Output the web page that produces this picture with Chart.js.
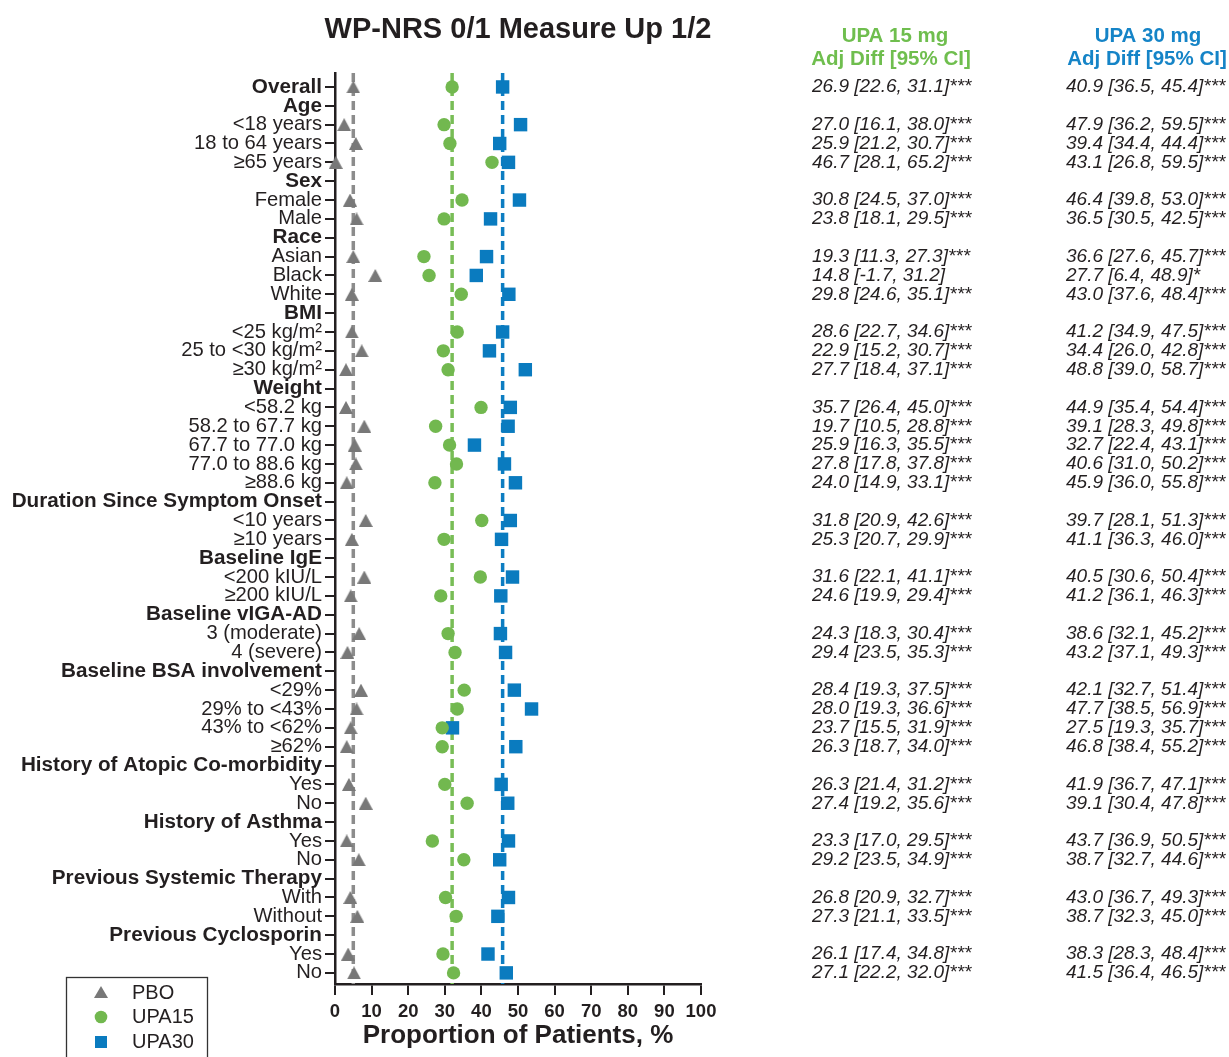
<!DOCTYPE html>
<html>
<head>
<meta charset="utf-8">
<script src="https://cdn.jsdelivr.net/npm/chart.js@4.4.1/dist/chart.umd.min.js"></script>
<style>
html,body{margin:0;padding:0;background:#fff;}
#wrap{width:1229px;height:1057px;position:relative;}
</style>
</head>
<body>
<div id="wrap"><canvas id="c"></canvas></div>
<script>
const FONT = '"Liberation Sans", Arial, Helvetica, sans-serif';

const chartTitle = 'WP-NRS 0/1 Measure Up 1/2';
const xAxisTitle = 'Proportion of Patients, %';
const seriesNames = ['PBO', 'UPA15', 'UPA30'];
const col1Header = ['UPA 15 mg', 'Adj Diff [95% CI]'];
const col2Header = ['UPA 30 mg', 'Adj Diff [95% CI]'];

const rowLabels = [
  'Overall', 'Age', '<18 years', '18 to 64 years', '\u226565 years',
  'Sex', 'Female', 'Male',
  'Race', 'Asian', 'Black', 'White',
  'BMI', '<25 kg/m\u00b2', '25 to <30 kg/m\u00b2', '\u226530 kg/m\u00b2',
  'Weight', '<58.2 kg', '58.2 to 67.7 kg', '67.7 to 77.0 kg', '77.0 to 88.6 kg', '\u226588.6 kg',
  'Duration Since Symptom Onset', '<10 years', '\u226510 years',
  'Baseline IgE', '<200 kIU/L', '\u2265200 kIU/L',
  'Baseline vIGA-AD', '3 (moderate)', '4 (severe)',
  'Baseline BSA involvement', '<29%', '29% to <43%', '43% to <62%', '\u226562%',
  'History of Atopic Co-morbidity', 'Yes', 'No',
  'History of Asthma', 'Yes', 'No',
  'Previous Systemic Therapy', 'With', 'Without',
  'Previous Cyclosporin', 'Yes', 'No'
];
const headerRows = [0, 1, 5, 8, 12, 16, 22, 25, 28, 31, 36, 39, 42, 45];

const pboValues = [
  5.0, null, 2.5, 5.7, 0.2,
  null, 4.1, 5.9,
  null, 5.0, 11.0, 4.6,
  null, 4.6, 7.3, 3.0,
  null, 3.0, 8.0, 5.4, 5.7, 3.2,
  null, 8.4, 4.6,
  null, 8.0, 4.3,
  null, 6.6, 3.4,
  null, 7.1, 5.9, 4.3, 3.2,
  null, 3.8, 8.4,
  null, 3.2, 6.5,
  null, 4.2, 6.1,
  null, 3.6, 5.2
];
const upa15Values = [
  32.0, null, 29.8, 31.4, 42.9,
  null, 34.7, 29.8,
  null, 24.3, 25.7, 34.5,
  null, 33.4, 29.6, 30.9,
  null, 39.9, 27.5, 31.3, 33.2, 27.3,
  null, 40.1, 29.8,
  null, 39.7, 28.9,
  null, 30.9, 32.8,
  null, 35.3, 33.4, 29.3, 29.3,
  null, 30.0, 36.1,
  null, 26.6, 35.2,
  null, 30.2, 33.1,
  null, 29.5, 32.4
];
const upa30Values = [
  45.8, null, 50.7, 45.0, 47.4,
  null, 50.4, 42.5,
  null, 41.4, 38.6, 47.5,
  null, 45.8, 42.2, 52.0,
  null, 47.9, 47.3, 38.1, 46.3, 49.3,
  null, 47.9, 45.5,
  null, 48.5, 45.3,
  null, 45.2, 46.6,
  null, 49.0, 53.7, 32.1, 49.4,
  null, 45.4, 47.2,
  null, 47.4, 45.0,
  null, 47.4, 44.5,
  null, 41.8, 46.8
];
const refLineValues = [5.0, 32.0, 45.8];

const upa15Diff = [
  '26.9 [22.6, 31.1]***', null, '27.0 [16.1, 38.0]***', '25.9 [21.2, 30.7]***', '46.7 [28.1, 65.2]***',
  null, '30.8 [24.5, 37.0]***', '23.8 [18.1, 29.5]***',
  null, '19.3 [11.3, 27.3]***', '14.8 [-1.7, 31.2]', '29.8 [24.6, 35.1]***',
  null, '28.6 [22.7, 34.6]***', '22.9 [15.2, 30.7]***', '27.7 [18.4, 37.1]***',
  null, '35.7 [26.4, 45.0]***', '19.7 [10.5, 28.8]***', '25.9 [16.3, 35.5]***', '27.8 [17.8, 37.8]***', '24.0 [14.9, 33.1]***',
  null, '31.8 [20.9, 42.6]***', '25.3 [20.7, 29.9]***',
  null, '31.6 [22.1, 41.1]***', '24.6 [19.9, 29.4]***',
  null, '24.3 [18.3, 30.4]***', '29.4 [23.5, 35.3]***',
  null, '28.4 [19.3, 37.5]***', '28.0 [19.3, 36.6]***', '23.7 [15.5, 31.9]***', '26.3 [18.7, 34.0]***',
  null, '26.3 [21.4, 31.2]***', '27.4 [19.2, 35.6]***',
  null, '23.3 [17.0, 29.5]***', '29.2 [23.5, 34.9]***',
  null, '26.8 [20.9, 32.7]***', '27.3 [21.1, 33.5]***',
  null, '26.1 [17.4, 34.8]***', '27.1 [22.2, 32.0]***'
];
const upa30Diff = [
  '40.9 [36.5, 45.4]***', null, '47.9 [36.2, 59.5]***', '39.4 [34.4, 44.4]***', '43.1 [26.8, 59.5]***',
  null, '46.4 [39.8, 53.0]***', '36.5 [30.5, 42.5]***',
  null, '36.6 [27.6, 45.7]***', '27.7 [6.4, 48.9]*', '43.0 [37.6, 48.4]***',
  null, '41.2 [34.9, 47.5]***', '34.4 [26.0, 42.8]***', '48.8 [39.0, 58.7]***',
  null, '44.9 [35.4, 54.4]***', '39.1 [28.3, 49.8]***', '32.7 [22.4, 43.1]***', '40.6 [31.0, 50.2]***', '45.9 [36.0, 55.8]***',
  null, '39.7 [28.1, 51.3]***', '41.1 [36.3, 46.0]***',
  null, '40.5 [30.6, 50.4]***', '41.2 [36.1, 46.3]***',
  null, '38.6 [32.1, 45.2]***', '43.2 [37.1, 49.3]***',
  null, '42.1 [32.7, 51.4]***', '47.7 [38.5, 56.9]***', '27.5 [19.3, 35.7]***', '46.8 [38.4, 55.2]***',
  null, '41.9 [36.7, 47.1]***', '39.1 [30.4, 47.8]***',
  null, '43.7 [36.9, 50.5]***', '38.7 [32.7, 44.6]***',
  null, '43.0 [36.7, 49.3]***', '38.7 [32.3, 45.0]***',
  null, '38.3 [28.3, 48.4]***', '41.5 [36.4, 46.5]***'
];
const xTickValues = [0, 10, 20, 30, 40, 50, 60, 70, 80, 90, 100];

// styles
const GREY = '#787878', GREEN = '#72b84f', BLUE = '#0a7bbf';
const GREY_LINE = '#8c8c8c', GREEN_LINE = '#78bd56', BLUE_LINE = '#0c7dc2';
const GREEN_TXT = '#6fbe4e', BLUE_TXT = '#1584c7';
const TXT = '#231f20';
const Y_MIN = -0.74, Y_MAX = 47.59;

function triangleImage(w, h, color) {
  const cv = document.createElement('canvas');
  cv.width = w; cv.height = h;
  const c = cv.getContext('2d');
  c.fillStyle = color;
  c.beginPath(); c.moveTo(w / 2, 0); c.lineTo(w, h); c.lineTo(0, h); c.closePath(); c.fill();
  return cv;
}
const triImg = triangleImage(14, 13, GREY);

function toPoints(vals) {
  const pts = [];
  vals.forEach((v, i) => { if (v !== null) pts.push({ x: v, y: i }); });
  return pts;
}
function refLine(v) { return [{ x: v, y: Y_MIN }, { x: v, y: Y_MAX }]; }

const overlay = {
  id: 'overlay',
  afterDraw(chart) {
    const ctx = chart.ctx, ys = chart.scales.y;
    ctx.save();
    ctx.textBaseline = 'middle';
    ctx.textAlign = 'center';
    ctx.fillStyle = TXT;
    ctx.font = 'bold 29px ' + FONT;
    ctx.fillText(chartTitle, 518, 30);

    ctx.font = 'bold 20.5px ' + FONT;
    ctx.fillStyle = GREEN_TXT;
    ctx.fillText(col1Header[0], 895, 36);
    ctx.fillText(col1Header[1], 891, 59);
    ctx.fillStyle = BLUE_TXT;
    ctx.fillText(col2Header[0], 1148, 36);
    ctx.fillText(col2Header[1], 1147, 59);

    ctx.textAlign = 'left';
    ctx.fillStyle = TXT;
    ctx.font = 'italic 19px ' + FONT;
    rowLabels.forEach((_, i) => {
      const py = ys.getPixelForValue(i);
      if (upa15Diff[i]) ctx.fillText(upa15Diff[i], 812, py);
      if (upa30Diff[i]) ctx.fillText(upa30Diff[i], 1066, py);
    });

    // legend
    ctx.strokeStyle = '#333';
    ctx.lineWidth = 1.3;
    ctx.strokeRect(66.5, 977.5, 141, 100);
    const ly = [993, 1017, 1042];
    ctx.fillStyle = GREY;
    ctx.beginPath(); ctx.moveTo(101, ly[0] - 7); ctx.lineTo(108, ly[0] + 5); ctx.lineTo(94, ly[0] + 5); ctx.closePath(); ctx.fill();
    ctx.fillStyle = GREEN;
    ctx.beginPath(); ctx.arc(101, ly[1], 6.3, 0, Math.PI * 2); ctx.fill();
    ctx.fillStyle = BLUE;
    ctx.fillRect(95, ly[2] - 6, 12, 12);
    ctx.fillStyle = TXT;
    ctx.font = '20px ' + FONT;
    seriesNames.forEach((n, i) => ctx.fillText(n, 132, ly[i]));
    ctx.restore();
  }
};

new Chart(document.getElementById('c'), {
  type: 'scatter',
  data: {
    datasets: [
      { label: seriesNames[0], data: toPoints(pboValues), pointStyle: triImg, pointRadius: 7, backgroundColor: GREY, borderWidth: 0, clip: false },
      { label: seriesNames[1], data: toPoints(upa15Values), pointStyle: 'circle', pointRadius: 6.7, backgroundColor: GREEN, borderColor: GREEN, borderWidth: 0, clip: false },
      { label: seriesNames[2], data: toPoints(upa30Values), pointStyle: 'rect', pointRadius: 9.5, backgroundColor: BLUE, borderColor: BLUE, borderWidth: 0, clip: false },
      { type: 'line', data: refLine(refLineValues[0]), borderColor: GREY_LINE, borderWidth: 3.5, borderDash: [9, 5], pointRadius: 0, clip: false },
      { type: 'line', data: refLine(refLineValues[1]), borderColor: GREEN_LINE, borderWidth: 3.5, borderDash: [9, 5], pointRadius: 0, clip: false },
      { type: 'line', data: refLine(refLineValues[2]), borderColor: BLUE_LINE, borderWidth: 3.5, borderDash: [9, 5], pointRadius: 0, clip: false }
    ]
  },
  options: {
    responsive: true,
    maintainAspectRatio: false,
    animation: false,
    layout: { padding: { left: 0, top: 73, right: 528, bottom: 0 } },
    plugins: { legend: { display: false }, tooltip: { enabled: false }, title: { display: false } },
    scales: {
      x: {
        type: 'linear', min: 0, max: 100,
        afterFit: (s) => { s.height = 73; },
        afterBuildTicks: (s) => { s.ticks = xTickValues.map(v => ({ value: v })); },
        ticks: { autoSkip: false, color: TXT, padding: 6, maxRotation: 0, font: { family: FONT, size: 18.5, weight: 'bold' } },
        grid: { display: true, drawOnChartArea: false, drawTicks: true, tickLength: 11, color: TXT, lineWidth: 2 },
        border: { display: true, color: TXT, width: 2.5 },
        title: { display: true, text: xAxisTitle, color: TXT, font: { family: FONT, size: 26, weight: 'bold', lineHeight: 1.2 }, padding: { top: 0, bottom: 6 } }
      },
      y: {
        type: 'linear', reverse: true, min: Y_MIN, max: Y_MAX,
        afterFit: (s) => { s.width = 335; },
        afterBuildTicks: (s) => { s.ticks = rowLabels.map((_, i) => ({ value: i })); },
        ticks: {
          autoSkip: false, color: TXT, padding: 3,
          callback: (v) => rowLabels[v] ?? '',
          font: (c) => {
            const isHead = c.tick && headerRows.includes(c.tick.value);
            return { family: FONT, size: isHead ? 20.7 : 20.2, weight: isHead ? 'bold' : 'normal', lineHeight: 1 };
          }
        },
        grid: { display: true, drawOnChartArea: false, drawTicks: true, tickLength: 10, color: TXT, lineWidth: 2 },
        border: { display: true, color: TXT, width: 2.5 }
      }
    }
  },
  plugins: [overlay]
});
</script>
</body>
</html>
